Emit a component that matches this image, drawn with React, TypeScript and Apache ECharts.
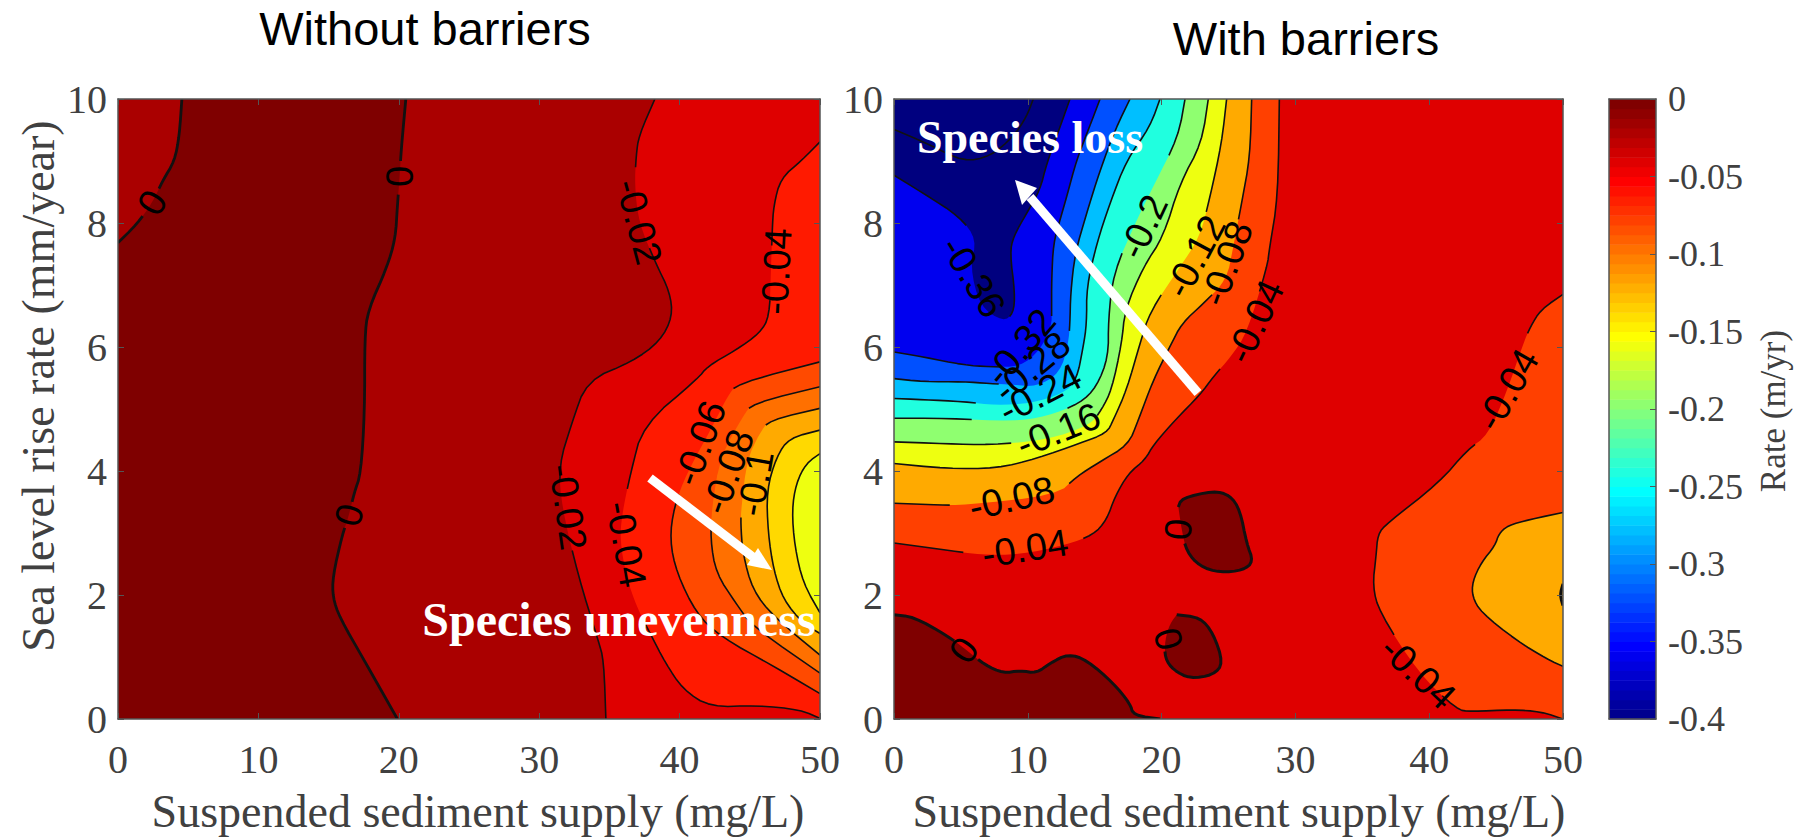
import React, { useEffect, useRef } from "react";
import * as echarts from "echarts";

// Points are [sediment supply, sea level rise]; a third element 0 marks a point
// that bounds the filled band but where the contour line is broken for its label.
type P = number[];

const xTicks = [0, 10, 20, 30, 40, 50];
const yTicks = [0, 2, 4, 6, 8, 10];

// ---------- Without barriers ----------
const noBarZeroA: P[] = [[4.55,10],[4.37,9.41],[4.03,9],[3.2,8.69],[2.45,8.33,0],[1.34,7.98],[0,7.68]];
const noBarZeroB: P[] = [[20.5,10],[20.16,9.15],[20.06,8.75,0],[19.9,8.28],[19.76,7.75],[19.15,7.28],[17.8,6.59],[17.57,6.15],[17.57,4.96],[17.3,3.96],[16.8,3.63],[16.46,3.29,0],[15.96,2.96],[15.3,2.3],[15.3,1.96],[15.8,1.63],[17.5,0.96],[19.9,0]];
const noBar02: P[] = [[38.24,10],[37.1,9.41],[36.9,9.08],[36.8,8.6,0],[37.1,8,0],[38.3,7.35],[39.3,6.89],[39.5,6.49],[38.6,6.09],[36.6,5.76],[33.4,5.46],[32.3,4.76],[31.4,4.09],[31.6,3.43,0],[32.8,2.29],[34.2,1.27],[34.6,0.95],[34.75,0]];
const noBar04: P[] = [[50,9.31],[48.7,9.01],[47.2,8.72],[46.7,8.28],[46.6,7.9],[46.5,7.2,0],[46.4,6.49],[45.7,6.22],[44,5.95],[42,5.69],[41.3,5.49],[37.4,4.74],[36.5,3.96],[35.9,3.3,0],[35.75,2.89,0],[36.2,2.3,0],[36.96,1.8,0],[37.9,1.38],[39,0.9],[40.26,0.47],[42.2,0.19],[45.5,0.22],[48.6,0.15],[50,0.01]];
const noBar06: P[] = [[50,5.76],[44.1,5.41],[43.4,5.2,0],[42.2,4.66,0],[40.5,3.96,0],[39.6,3.42],[39.3,2.89],[39.8,2.35],[41.2,1.7],[42.9,1.33],[46.7,0.85],[50,0.41]];
const noBar08: P[] = [[50,5.36],[45.2,5.09],[44.5,4.88,0],[42.9,4.23,0],[42.3,3.42,0],[42.2,2.89],[42.6,2.35],[44,1.87],[45.2,1.49],[50,0.74]];
const noBar10: P[] = [[50,5.01],[46.4,4.82],[45.7,4.61,0],[44.8,4.18,0],[44.4,3.42,0],[44.35,3.15],[44.5,2.67],[45.2,2.08],[46.7,1.65],[50,1.03]];
const noBar12: P[] = [[50,4.66],[47.8,4.53],[46.9,4.23],[46.2,3.69],[46.3,3],[46.7,2.4],[47.4,1.92],[48.8,1.54],[50,1.38]];
const noBar14: P[] = [[50,4.28],[49,4.12],[48.3,3.8],[48,3.37],[48.2,2.78],[48.8,2.19],[50,1.71]];

// ---------- With barriers ----------
const bar04: P[] = [[28.8,10],[28.7,8.42],[28.05,7.58],[27.9,7.3],[26.36,6.22,0],[25.2,5.85,0],[23.87,5.52],[22.87,5.23],[21,4.82],[19.38,4.42],[18.76,4.18],[17.51,3.96],[16.52,3.59],[15.89,3.21],[14.9,2.97],[12.9,2.81,0],[9.42,2.65,0],[6.43,2.65,0],[4.43,2.71],[0,2.84]];
const bar08: P[] = [[26.73,10],[26.61,9.07],[25.98,8.32],[25.36,7.62,0],[24.86,7.08,0],[23.12,6.7],[21.5,6.38],[20.63,6.01],[19.38,5.47],[18.26,4.82],[17.51,4.42],[15.4,4.15],[13.65,3.91],[12.16,3.61,0],[5.18,3.45,0],[3.56,3.45],[0,3.48]];
const bar12: P[] = [[24.86,10],[24.49,9.29],[23.62,8.42],[22.87,7.78,0],[21.37,7.29,0],[19.13,6.57],[18.39,6.06],[17.39,5.31],[16.39,4.82],[15.89,4.61],[13.9,4.45],[10.66,4.2],[7.67,4.04],[3.94,4.04],[0,4.12]];
const bar16: P[] = [[23.49,10],[23,9.29],[21.37,8.64],[20.13,7.78],[18.63,7.29],[17.26,6.6],[17.02,6.06],[16.27,5.31],[15.52,4.99],[14.65,4.74,0],[11.41,4.5,0],[7.17,4.42],[3.94,4.44],[0,4.47]];
const bar20: P[] = [[21.75,10],[21.25,9.39],[19.38,8.59,0],[18.14,8.05,0],[16.39,7.19],[16.02,6.44],[16.02,5.84],[15.15,5.36],[13.9,5.09],[11.41,4.88,0],[8.92,4.8,0],[3.94,4.85],[0,4.85]];
const bar24: P[] = [[19.88,10],[19.13,9.55],[17.39,9.02],[16.14,8.32],[15.15,7.67],[14.4,6.97],[14.4,6.38],[14.15,6.01],[13.65,5.47],[12.66,5.25,0],[10.16,5.09,0],[7.67,5.06,0],[5.18,5.12],[2.19,5.15],[0,5.17]];
const bar28: P[] = [[17.64,10],[16.52,9.5],[15.4,8.85],[14.4,8.16],[13.53,7.51],[13.2,6.87],[13.15,6.38],[13.03,6.06,0],[12.41,5.58,0],[10.66,5.36,0],[8.92,5.39,0],[7.17,5.41],[5.18,5.44],[2.19,5.44],[0,5.49]];
const bar32: P[] = [[15.4,10],[14.52,9.5],[13.65,9.02],[12.9,8.42],[12.41,8.05],[11.91,7.67],[11.78,7.08],[11.78,6.6],[11.78,6.33,0],[10.91,5.95,0],[9.42,5.68,0],[7.17,5.68],[5.18,5.71],[2.19,5.84],[0,5.92]];
const bar36: P[] = [[13.15,10],[12.41,9.55],[11.41,8.96],[10.91,8.53],[9.92,8.16],[8.92,7.78],[8.67,7.51],[9.04,6.87],[8.92,6.54],[8.17,6.41,0],[6.43,6.65,0],[5.68,7.3,0],[6.18,7.73,0],[4.93,8.1],[2.19,8.48],[0,8.77]];
const bar40: P[] = [[0,9.51],[2.69,9.26],[5.18,8.99],[7.17,9.07],[8.92,9.39],[9.92,9.72],[10.41,10]];
const barZeroCorner: P[] = [[0,1.68],[1.44,1.65],[3.94,1.35],[5.43,1.11,0],[6.8,0.87],[8.17,0.74],[9.42,0.78],[10.66,0.74],[11.66,0.9],[13.03,1.05],[14.4,0.95],[16.39,0.58],[17.64,0.25],[17.89,0.06],[19.88,0]];
const barZeroBlobA: P[] = [[21.25,3.42],[21.5,3.56],[23.87,3.68],[25.11,3.61],[25.86,3.37],[26.36,2.83],[26.86,2.54],[26.11,2.4],[24.37,2.36],[22.87,2.46],[21.87,2.7],[21.5,3.05,0],[21.25,3.42]];
const barZeroBlobB: P[] = [[21.13,1.68],[22.87,1.64],[23.87,1.38],[24.61,0.9],[23.87,0.71],[22.12,0.65],[20.88,0.79],[20.25,0.98],[20.25,1.27,0],[20.63,1.54,0],[21.13,1.68,0]];
const barRight04: P[] = [[50,6.85],[48.33,6.6],[47.55,6.32],[47.02,6.05,0],[45.85,5.31,0],[44.41,4.58,0],[42.84,4.34],[40.74,3.81],[36.82,3.15],[36.16,2.98],[36.03,2.63],[35.77,2.14],[36.29,1.72],[39.17,0.75,0],[42.05,0.15],[43.1,0.12],[46.24,0.15],[48.33,0.12],[50,0]];
const barRight08: P[] = [[50,3.33],[47.55,3.22],[45.85,3.12],[45.19,2.98],[44.93,2.8],[43.88,2.52],[43.23,2.21],[43.23,1.97],[43.88,1.72],[46.5,1.27],[48.85,0.96],[50,0.85]];
const barRightTick: P[] = [[50,2.18],[49.77,2],[50,1.83]];

// Contour labels: text, sediment supply, sea level rise, angle along the contour.
const noBarLabels: [string, number, number, number][] = [
  ["0",2.45,8.33,60],["0",20.06,8.75,90],["0",16.46,3.29,75],
  ["-0.02",37.1,8.02,-75],["-0.04",46.9,7.22,87],["-0.02",32.05,3.42,-82],["-0.04",36.2,2.82,-80],
  ["-0.06",41.45,4.45,70],["-0.08",43.45,3.99,70],["-0.1",45.4,3.8,80],
];
const barLabels: [string, number, number, number][] = [
  ["-0.36",5.93,7.13,-58],["-0.32",9.42,6,50],["-0.28",10.29,5.68,40],["-0.24",10.91,5.25,27],
  ["-0.16",12.28,4.66,22],["-0.2",18.63,7.94,65],["-0.12",22.5,7.46,62],["-0.08",24.86,7.35,70],
  ["-0.04",26.98,6.41,65],["-0.08",8.79,3.56,13],["-0.04",9.79,2.75,9],
  ["0",5.23,1.11,55],["0",21.25,3.06,85],["0",20.5,1.29,-75],
  ["-0.04",45.85,5.31,60],["-0.04",39.17,0.75,-43],
];

// The colour scale's 64 steps, from -0.4 up to 0.
const jetSteps = [
  "#00008f","#00009f","#0000af","#0000bf","#0000cf","#0000df","#0000ef","#0000ff",
  "#0010ff","#0020ff","#0030ff","#0040ff","#0050ff","#0060ff","#0070ff","#0080ff",
  "#008fff","#009fff","#00afff","#00bfff","#00cfff","#00dfff","#00efff","#00ffff",
  "#10ffef","#20ffdf","#30ffcf","#40ffbf","#50ffaf","#60ff9f","#70ff8f","#80ff80",
  "#8fff70","#9fff60","#afff50","#bfff40","#cfff30","#dfff20","#efff10","#ffff00",
  "#ffef00","#ffdf00","#ffcf00","#ffbf00","#ffaf00","#ff9f00","#ff8f00","#ff8000",
  "#ff7000","#ff6000","#ff5000","#ff4000","#ff3000","#ff2000","#ff1000","#ff0000",
  "#ef0000","#df0000","#cf0000","#bf0000","#af0000","#9f0000","#8f0000","#800000",
];
const scaleMin = -0.4;
const scaleMax = 0;

const DARK = "#7f0000";
const AXIS = "#555555";
const TICK_TEXT = "#404040";
const SERIF = "Liberation Serif";
const SANS = "Liberation Sans";

// A band is drawn from contour runs (rounded) joined by the plot's corner points.
type Band = { parts: P[][]; color: string };

const noBarBands: Band[] = [
  { parts: [noBarZeroA, [[0, 0]], [...noBarZeroB].reverse()], color: DARK },
  { parts: [noBar02, [[50, 0]], [[50, 10]]], color: "#df0000" },
  { parts: [noBar04], color: "#ff1a00" },
  { parts: [noBar06], color: "#ff4a00" },
  { parts: [noBar08], color: "#ff7000" },
  { parts: [noBar10], color: "#ffaa00" },
  { parts: [noBar12], color: "#ffd900" },
  { parts: [noBar14], color: "#eeff10" },
];
const topLeft: P[] = [[0, 10]];
const barBands: Band[] = [
  { parts: [bar04, topLeft], color: "#ff4000" },
  { parts: [bar08, topLeft], color: "#ffaa00" },
  { parts: [bar12, topLeft], color: "#eeff10" },
  { parts: [bar16, topLeft], color: "#8fff70" },
  { parts: [bar20, topLeft], color: "#20ffdf" },
  { parts: [bar24, topLeft], color: "#00bfff" },
  { parts: [bar28, topLeft], color: "#0050ff" },
  { parts: [bar32, topLeft], color: "#0000ef" },
  { parts: [bar36, topLeft], color: "#00007f" },
  { parts: [barZeroCorner, [[0, 0]]], color: DARK },
  { parts: [barZeroBlobA], color: DARK },
  { parts: [barZeroBlobB], color: DARK },
  { parts: [barRight04], color: "#ff4000" },
  { parts: [barRight08], color: "#ffaa00" },
];

const noBarThin = [noBar02, noBar04, noBar06, noBar08, noBar10, noBar12, noBar14];
const noBarThick = [noBarZeroA, noBarZeroB];
const barThin = [bar04, bar08, bar12, bar16, bar20, bar24, bar28, bar32, bar36, bar40, barRight04, barRight08];
const barThick = [barZeroCorner, barZeroBlobA, barZeroBlobB, barRightTick];

// Rounds a run's corners on screen, as the reference's contours are rounded; its ends stay put.
function rounded(run: P[], passes = 2): P[] {
  let cur = run;
  for (let k = 0; k < passes && cur.length > 2; k++) {
    const next: P[] = [cur[0]];
    for (let i = 0; i < cur.length - 1; i++) {
      const a = cur[i];
      const b = cur[i + 1];
      if (i > 0) next.push([0.75 * a[0] + 0.25 * b[0], 0.75 * a[1] + 0.25 * b[1], a[2] === 0 ? 0 : 1]);
      if (i < cur.length - 2) next.push([0.25 * a[0] + 0.75 * b[0], 0.25 * a[1] + 0.75 * b[1], b[2] === 0 ? 0 : 1]);
    }
    next.push(cur[cur.length - 1]);
    cur = next;
  }
  return cur;
}

function toScreen(api: any, run: P[]): P[] {
  return run.map((p) => {
    const c = api.coord([p[0], p[1]]);
    return [c[0], c[1], p[2] === 0 ? 0 : 1];
  });
}

function fillSeries(bands: Band[], axis: number, base: string) {
  return {
    type: "custom",
    xAxisIndex: axis,
    yAxisIndex: axis,
    silent: true,
    clip: true,
    z: 2,
    data: bands.map((_, i) => [i]),
    renderItem: (params: any, api: any) => {
      const band = bands[params.dataIndex];
      const children: any[] = [];
      if (params.dataIndex === 0) {
        const a = api.coord([0, 0]);
        const b = api.coord([50, 10]);
        children.push({ type: "rect", shape: { x: a[0], y: b[1], width: b[0] - a[0], height: a[1] - b[1] }, style: { fill: base } });
      }
      const points: number[][] = [];
      band.parts.forEach((part) => rounded(toScreen(api, part)).forEach((p) => points.push([p[0], p[1]])));
      children.push({ type: "polygon", shape: { points }, style: { fill: band.color } });
      return { type: "group", children };
    },
  };
}

function contourSeries(runs: P[][], axis: number, width: number) {
  return {
    type: "custom",
    xAxisIndex: axis,
    yAxisIndex: axis,
    silent: true,
    clip: true,
    z: 3,
    data: runs.map((_, i) => [i]),
    renderItem: (params: any, api: any) => {
      const pts = rounded(toScreen(api, runs[params.dataIndex]));
      const children: any[] = [];
      let seg: number[][] = [];
      const flush = () => {
        if (seg.length > 1) {
          children.push({
            type: "polyline",
            shape: { points: seg },
            style: { fill: "none", stroke: "#111111", lineWidth: width, lineJoin: "round" },
          });
        }
        seg = [];
      };
      pts.forEach((p) => {
        if (p[2] === 0) flush();
        else seg.push([p[0], p[1]]);
      });
      flush();
      return { type: "group", children };
    },
  };
}

function labelSeries(labels: [string, number, number, number][], axis: number) {
  return {
    type: "custom",
    xAxisIndex: axis,
    yAxisIndex: axis,
    silent: true,
    z: 4,
    data: labels.map((l) => [l[1], l[2]]),
    renderItem: (params: any, api: any) => {
      const l = labels[params.dataIndex];
      const c = api.coord([l[1], l[2]]);
      return {
        type: "text",
        x: c[0],
        y: c[1],
        rotation: (l[3] * Math.PI) / 180,
        style: { text: l[0], fontFamily: SANS, fontSize: 38, fill: "#000000", align: "center", verticalAlign: "middle" },
      };
    },
  };
}

const scaleSeries = {
  type: "custom",
  xAxisIndex: 2,
  yAxisIndex: 2,
  silent: true,
  z: 2,
  data: jetSteps.map((_, i) => [i]),
  renderItem: (params: any, api: any) => {
    const i = params.dataIndex;
    const step = (scaleMax - scaleMin) / jetSteps.length;
    const lo = api.coord([0, scaleMin + i * step]);
    const hi = api.coord([1, scaleMin + (i + 1) * step]);
    return {
      type: "rect",
      shape: { x: lo[0], y: hi[1], width: hi[0] - lo[0], height: lo[1] - hi[1] + 0.5 },
      style: { fill: jetSteps[i] },
    };
  },
};

const line = { show: true, onZero: false, lineStyle: { color: AXIS, width: 1.5 } };
const tick = { show: true, inside: true, length: 6, lineStyle: { color: AXIS, width: 1 } };
const noTick = { show: false };

function xAxis(grid: number, top: boolean, showLabel: boolean) {
  return {
    type: "value", gridIndex: grid, min: xTicks[0], max: xTicks[xTicks.length - 1], interval: 10,
    position: top ? "top" : "bottom", z: 8, axisLine: line, axisTick: tick, splitLine: { show: false },
    axisLabel: { show: showLabel, color: TICK_TEXT, fontFamily: SERIF, fontSize: 40, margin: 20 },
  };
}
function yAxis(grid: number, right: boolean, showLabel: boolean) {
  return {
    type: "value", gridIndex: grid, min: yTicks[0], max: yTicks[yTicks.length - 1], interval: 2,
    position: right ? "right" : "left", z: 8, axisLine: line, axisTick: tick, splitLine: { show: false },
    axisLabel: { show: showLabel, color: TICK_TEXT, fontFamily: SERIF, fontSize: 40, margin: 11 },
  };
}

const LEFT_GRID = { left: 118, top: 99, width: 702, height: 620 };
const RIGHT_GRID = { left: 894, top: 99, width: 669, height: 620 };
const SCALE_GRID = { left: 1609, top: 99, width: 47, height: 620 };

function caption(text: string, x: number, y: number, font: string, size: number, color: string, rot = 0, weight = "normal") {
  return {
    type: "text", x, y, z: 50, silent: true, rotation: (rot * Math.PI) / 180,
    style: { text, fontFamily: font, fontSize: size, fontWeight: weight, fill: color, align: "center", verticalAlign: "middle" },
  };
}

const option: any = {
  animation: false,
  backgroundColor: "#ffffff",
  grid: [LEFT_GRID, RIGHT_GRID, SCALE_GRID],
  xAxis: [
    xAxis(0, false, true), xAxis(1, false, true),
    { type: "value", gridIndex: 2, min: 0, max: 1, position: "bottom", z: 8, axisLine: line, axisTick: noTick, axisLabel: { show: false }, splitLine: { show: false } },
    xAxis(0, true, false), xAxis(1, true, false),
    { type: "value", gridIndex: 2, min: 0, max: 1, position: "top", z: 8, axisLine: line, axisTick: noTick, axisLabel: { show: false }, splitLine: { show: false } },
  ],
  yAxis: [
    yAxis(0, false, true), yAxis(1, false, true),
    {
      type: "value", gridIndex: 2, min: scaleMin, max: scaleMax, interval: 0.05, position: "right", z: 8,
      axisLine: line, axisTick: tick, splitLine: { show: false },
      axisLabel: { color: TICK_TEXT, fontFamily: SERIF, fontSize: 36, margin: 12 },
    },
    yAxis(0, true, false), yAxis(1, true, false),
    { type: "value", gridIndex: 2, min: scaleMin, max: scaleMax, position: "left", z: 8, axisLine: line, axisTick: noTick, axisLabel: { show: false }, splitLine: { show: false } },
  ],
  series: [
    fillSeries(noBarBands, 0, "#aa0000"),
    contourSeries(noBarThin, 0, 1.6),
    contourSeries(noBarThick, 0, 2.8),
    labelSeries(noBarLabels, 0),
    fillSeries(barBands, 1, "#df0000"),
    contourSeries(barThin, 1, 1.6),
    contourSeries(barThick, 1, 3),
    labelSeries(barLabels, 1),
    scaleSeries,
  ],
  graphic: { elements: [
    caption("Without barriers", 425, 28, SANS, 47, "#000000"),
    caption("With barriers", 1306, 38, SANS, 47, "#000000"),
    caption("Suspended sediment supply (mg/L)", 478, 811, SERIF, 46, TICK_TEXT),
    caption("Suspended sediment supply (mg/L)", 1239, 811, SERIF, 46, TICK_TEXT),
    caption("Sea level rise rate (mm/year)", 38, 386, SERIF, 46, TICK_TEXT, 90),
    caption("Rate (m/yr)", 1773, 411, SERIF, 35, TICK_TEXT, 90),
    caption("Species unevenness", 619, 619, SERIF, 48, "#ffffff", 0, "bold"),
    caption("Species loss", 1030, 137, SERIF, 46, "#ffffff", 0, "bold"),
    { type: "line", z: 50, silent: true, shape: { x1: 650, y1: 478, x2: 753, y2: 557 }, style: { stroke: "#ffffff", lineWidth: 9 } },
    { type: "polygon", z: 50, silent: true, shape: { points: [[772, 570], [758, 548], [747, 565]] }, style: { fill: "#ffffff" } },
    { type: "line", z: 50, silent: true, shape: { x1: 1198, y1: 393, x2: 1030, y2: 197 }, style: { stroke: "#ffffff", lineWidth: 9 } },
    { type: "polygon", z: 50, silent: true, shape: { points: [[1015, 180], [1037, 188], [1022, 205]] }, style: { fill: "#ffffff" } },
  ] },
};

export default function App() {
  const ref = useRef<HTMLDivElement>(null);
  useEffect(() => {
    document.body.style.margin = "0";
    const chart = echarts.init(ref.current!, undefined, { renderer: "svg" });
    chart.setOption(option);
    return () => chart.dispose();
  }, []);
  return <div ref={ref} style={{ width: 1799, height: 838 }} />;
}
